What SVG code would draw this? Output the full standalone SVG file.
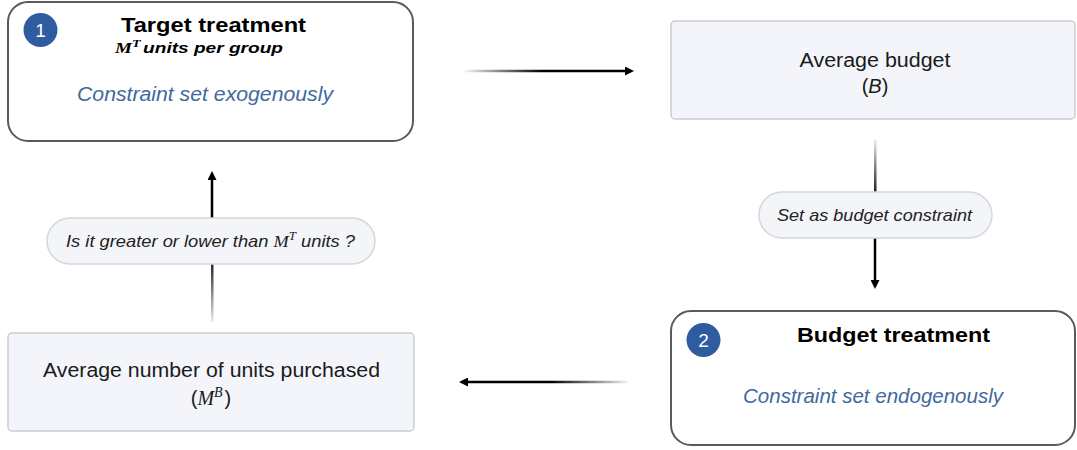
<svg xmlns="http://www.w3.org/2000/svg" width="1077" height="450" viewBox="0 0 1077 450">
<style>
.tbox{fill:#ffffff;stroke:#5a5a5a;stroke-width:2}
.ibox{fill:#f3f5fa;stroke:#c9cdd3;stroke-width:1.5}
.pill{fill:#f3f5f8;stroke:#d3d6db;stroke-width:1.5}
.badge{fill:#2f5c9f}
.bnum{font-family:"Liberation Sans",Arial,sans-serif;font-size:19px;fill:#ffffff;text-anchor:middle}
.title{font-family:"Liberation Sans",Arial,sans-serif;font-size:20px;font-weight:bold;fill:#000;text-anchor:middle}
.sub{font-family:"Liberation Sans",Arial,sans-serif;font-size:15px;font-weight:bold;font-style:italic;fill:#000;text-anchor:middle}
.blue{font-family:"Liberation Sans",Arial,sans-serif;font-size:20px;font-style:italic;fill:#41699e;text-anchor:middle}
.body{font-family:"Liberation Sans",Arial,sans-serif;font-size:20px;fill:#1a1a1a;text-anchor:middle}
.lbl{font-family:"Liberation Sans",Arial,sans-serif;font-size:17px;font-style:italic;fill:#222;text-anchor:middle}
.math{font-family:"Liberation Serif","Times New Roman",serif;font-style:italic}
</style>
<defs>
<marker id="ah" markerWidth="9" markerHeight="9" refX="6" refY="4.5" orient="auto" markerUnits="userSpaceOnUse">
<path d="M0,0 L9,4.5 L0,9 Z" fill="#000"/>
</marker>
<linearGradient id="gR" gradientUnits="userSpaceOnUse" x1="465" y1="0" x2="636" y2="0"><stop offset="0" stop-color="#000" stop-opacity="0.05"/><stop offset="0.45" stop-color="#000" stop-opacity="1"/><stop offset="1" stop-color="#000"/></linearGradient>
<linearGradient id="gL" gradientUnits="userSpaceOnUse" x1="628" y1="0" x2="457" y2="0"><stop offset="0" stop-color="#000" stop-opacity="0.05"/><stop offset="0.45" stop-color="#000" stop-opacity="1"/><stop offset="1" stop-color="#000"/></linearGradient>
<linearGradient id="gD" gradientUnits="userSpaceOnUse" x1="0" y1="140" x2="0" y2="193"><stop offset="0" stop-color="#000" stop-opacity="0.08"/><stop offset="1" stop-color="#000" stop-opacity="0.9"/></linearGradient>
<linearGradient id="gU" gradientUnits="userSpaceOnUse" x1="0" y1="322" x2="0" y2="264"><stop offset="0" stop-color="#000" stop-opacity="0.08"/><stop offset="1" stop-color="#000" stop-opacity="0.85"/></linearGradient>
</defs>

<g id="connectors">
<line x1="465" y1="71" x2="631" y2="71" stroke="url(#gR)" stroke-width="2.5" marker-end="url(#ah)"/>
<rect x="874" y="140" width="2.5" height="53" fill="url(#gD)"/>
<line x1="875" y1="238" x2="875" y2="286" stroke="#000" stroke-width="2.5" marker-end="url(#ah)"/>
<line x1="628" y1="382" x2="462" y2="382" stroke="url(#gL)" stroke-width="2.5" marker-end="url(#ah)"/>
<rect x="211" y="264" width="2.5" height="58" fill="url(#gU)"/>
<line x1="212" y1="218" x2="212" y2="174" stroke="#000" stroke-width="2.5" marker-end="url(#ah)"/>
</g>

<g id="target-treatment">
<rect class="tbox" x="8" y="2" width="405" height="139" rx="20"/>
<circle class="badge" cx="40.5" cy="30" r="17"/>
<text class="bnum" x="40.5" y="37">1</text>
<text class="title" x="213.5" y="32" textLength="185" lengthAdjust="spacingAndGlyphs">Target treatment</text>
<text class="sub" x="199" y="53" textLength="168" lengthAdjust="spacingAndGlyphs"><tspan class="math" font-size="15">M</tspan><tspan class="math" font-size="11" dy="-6">T</tspan><tspan dy="6" dx="2">units per group</tspan></text>
<text class="blue" x="205" y="101" textLength="256" lengthAdjust="spacingAndGlyphs">Constraint set exogenously</text>
</g>

<g id="average-budget">
<rect class="ibox" x="671" y="21" width="404" height="98" rx="4"/>
<text class="body" x="875" y="66.5" textLength="151" lengthAdjust="spacingAndGlyphs">Average budget</text>
<text class="body" x="875" y="93">(<tspan font-style="italic">B</tspan>)</text>
</g>

<g id="set-budget-label">
<rect class="pill" x="759" y="192" width="233" height="46" rx="23"/>
<text class="lbl" x="874.5" y="221" textLength="195" lengthAdjust="spacingAndGlyphs">Set as budget constraint</text>
</g>

<g id="budget-treatment">
<rect class="tbox" x="671" y="311" width="404" height="134" rx="20"/>
<circle class="badge" cx="703.5" cy="340" r="17"/>
<text class="bnum" x="703.5" y="347">2</text>
<text class="title" x="893.5" y="341.5" textLength="193" lengthAdjust="spacingAndGlyphs">Budget treatment</text>
<text class="blue" x="873" y="403" textLength="260" lengthAdjust="spacingAndGlyphs">Constraint set endogenously</text>
</g>

<g id="avg-units">
<rect class="ibox" x="8" y="333" width="406" height="98" rx="4"/>
<text class="body" x="211.5" y="377" textLength="337" lengthAdjust="spacingAndGlyphs">Average number of units purchased</text>
<text class="body" x="211" y="405">(<tspan class="math" font-size="20">M</tspan><tspan class="math" font-size="14" dy="-8">B</tspan><tspan dy="8" dx="2">)</tspan></text>
</g>

<g id="compare-label">
<rect class="pill" x="47" y="218" width="328" height="46" rx="23"/>
<text class="lbl" x="210.5" y="247" textLength="289" lengthAdjust="spacingAndGlyphs">Is it greater or lower  than <tspan class="math" font-size="17">M</tspan><tspan class="math" font-size="12" dy="-7">T</tspan><tspan dy="7">  units ?</tspan></text>
</g>
</svg>
